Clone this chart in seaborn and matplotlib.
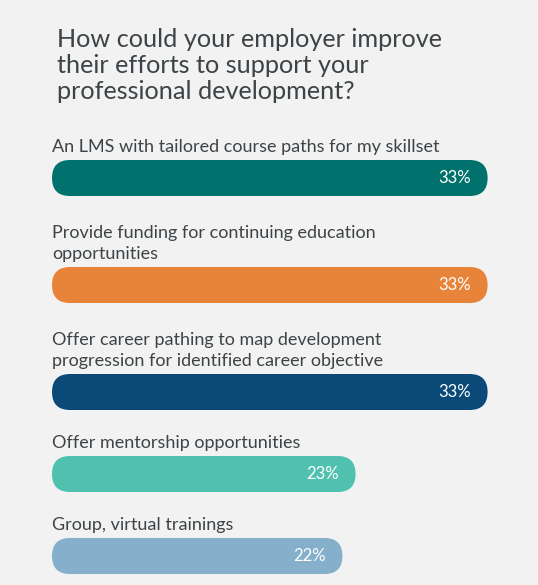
import matplotlib
matplotlib.use("Agg")
import matplotlib.pyplot as plt
import seaborn as sns
import pandas as pd
from matplotlib.patches import FancyBboxPatch
from matplotlib.transforms import offset_copy

# Dados do gráfico
title = "How could your employer improve\ntheir efforts to support your\nprofessional development?"
labels = [
    "An LMS with tailored course paths for my skillset",
    "Provide funding for continuing education\nopportunities",
    "Offer career pathing to map development\nprogression for identified career objective",
    "Offer mentorship opportunities",
    "Group, virtual trainings",
]
values = [33, 33, 33, 23, 22]
colors = ["#00716c", "#e8843a", "#0b4978", "#50c1af", "#85afca"]

BG = "#f2f2f2"
TXT = "#3d4346"

sns.set_theme(style="white")
plt.rcParams["font.family"] = ["Lato", "DejaVu Sans"]

W, H = 538, 585
fig = plt.figure(figsize=(W / 100, H / 100), dpi=100, facecolor=BG)

fig.text(57 / W, 1 - 28 / H, title, ha="left", va="top", fontsize=18.2,
         color=TXT, linespacing=1.16)

# layout em pixels
left = 52
px_per_pct = 13.2
xmax = 36
bar_h = 36
top = 160

for i, (label, value, color) in enumerate(zip(labels, values, colors)):
    nlines = label.count("\n") + 1
    if i > 0:
        top += bar_h + 46 + 25 * (nlines - 1)
    ax = fig.add_axes([left / W, 1 - (top + bar_h) / H,
                       px_per_pct * xmax / W, bar_h / H])
    df = pd.DataFrame({"label": [label], "value": [value]})
    sns.barplot(data=df, x="value", y="label", orient="h", width=1.0,
                color=color, ax=ax, saturation=1)
    ax.set_xlim(0, xmax)
    ax.set_ylim(0.5, -0.5)
    ax.axis("off")
    ax.patch.set_alpha(0)

    # troca a barra por uma versão arredondada
    for p in list(ax.patches):
        x0, y0, w, h = p.get_x(), p.get_y(), p.get_width(), p.get_height()
        p.remove()
        r = (bar_h / 2) / px_per_pct
        ax.add_patch(FancyBboxPatch((x0, y0), w, h,
                                    boxstyle=f"round,pad=0,rounding_size={r}",
                                    mutation_aspect=abs(h) / (2 * r),
                                    facecolor=color, edgecolor="none"))
        trans = offset_copy(ax.transData, fig=fig, x=-17, y=0, units="dots")
        ax.text(x0 + w, y0 + h / 2, f"{value}%", transform=trans,
                ha="right", va="center", color="white", fontsize=12)

    ax.text(0, 1, label, transform=offset_copy(ax.transAxes, fig=fig, x=0, y=5, units="dots"),
            ha="left", va="bottom", fontsize=13, color=TXT, linespacing=1.42)

fig.savefig("out.png", dpi=100, facecolor=BG)
